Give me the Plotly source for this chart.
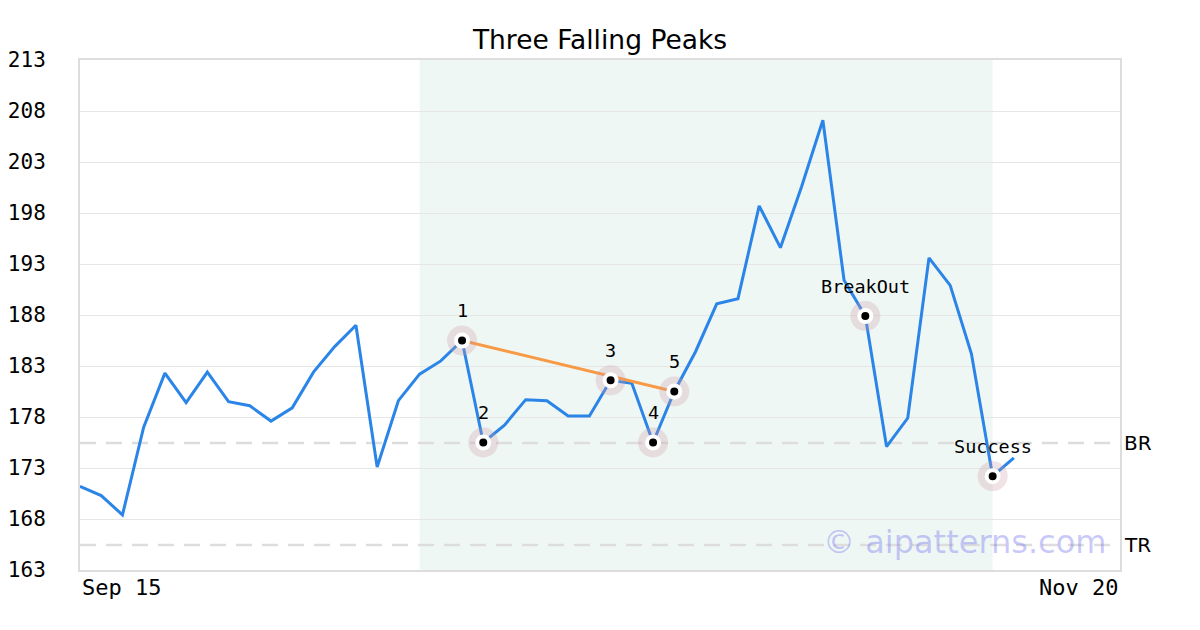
import plotly.graph_objects as go

# ---- data ----
x_index = list(range(45))
prices = [171.2, 170.3, 168.4, 177.0, 182.3, 179.4, 182.4, 179.5, 179.1, 177.6,
          178.9, 182.4, 184.9, 187.0, 173.1, 179.6, 182.2, 183.5, 185.5, 175.5,
          177.2, 179.7, 179.6, 178.1, 178.1, 181.6, 181.3, 175.5, 180.5, 184.4,
          189.1, 189.6, 198.7, 194.6, 200.6, 207.1, 191.4, 187.9, 175.1, 177.9,
          193.6, 190.9, 184.2, 172.2, 174.0]
point_idx = [18, 19, 25, 27, 28, 37, 43]
point_labels = ["1", "2", "3", "4", "5", "BreakOut", "Success"]
trend_idx = [18, 28]
pattern_span = [16, 43]
br_level = 175.45
tr_level = 165.45
y_ticks = [163, 168, 173, 178, 183, 188, 193, 198, 203, 208, 213]
x_tick_labels = ["Sep 15", "Nov 20"]
x_range = [0, 49]

mono = "DejaVu Sans Mono"
sans = "DejaVu Sans"

fig = go.Figure()

# price line
fig.add_trace(go.Scatter(x=x_index, y=prices, mode="lines",
                         line=dict(color="#2b85e8", width=3), hoverinfo="skip"))
# trend line
fig.add_trace(go.Scatter(x=trend_idx, y=[prices[i] for i in trend_idx], mode="lines",
                         line=dict(color="#f89a45", width=3), hoverinfo="skip"))

px = [x_index[i] for i in point_idx]
py = [prices[i] for i in point_idx]
fig.add_trace(go.Scatter(x=px, y=py, mode="markers",
                         marker=dict(size=30, color="rgba(205,150,165,0.28)", line=dict(width=0)),
                         hoverinfo="skip"))
fig.add_trace(go.Scatter(x=px, y=py, mode="markers",
                         marker=dict(size=12, color="black", opacity=1,
                                     line=dict(color="white", width=4)),
                         hoverinfo="skip"))

# pattern shading
fig.add_shape(type="rect", xref="x", yref="paper", x0=pattern_span[0], x1=pattern_span[1],
              y0=0, y1=1, fillcolor="#eff7f4", line=dict(width=0), layer="below")

# BR/TR dashed lines
for lvl, name in [(br_level, "BR"), (tr_level, "TR")]:
    fig.add_shape(type="line", xref="paper", yref="y", x0=0, x1=1, y0=lvl, y1=lvl,
                  line=dict(color="#dddddd", width=2.5, dash="16px,10px"), layer="below")
    fig.add_annotation(xref="paper", yref="y", x=1, y=lvl, text=name, showarrow=False,
                       xanchor="left", xshift=2, font=dict(family=sans, size=20, color="black"))

# point labels
for xi, yi, t in zip(px, py, point_labels):
    fig.add_annotation(x=xi, y=yi, text=t, showarrow=False, yshift=30,
                       font=dict(family=mono, size=18.5, color="black"))

# x labels
fig.add_annotation(xref="paper", yref="paper", x=0, y=0, text=x_tick_labels[0], showarrow=False,
                   xanchor="left", yanchor="top", yshift=-3, font=dict(family=mono, size=22, color="black"))
fig.add_annotation(xref="paper", yref="paper", x=1, y=0, text=x_tick_labels[1], showarrow=False,
                   xanchor="right", yanchor="top", yshift=-3, font=dict(family=mono, size=22, color="black"))

# watermark
fig.add_annotation(xref="paper", yref="paper", x=0.9885, y=0.055, text="© aipatterns.com",
                   showarrow=False, xanchor="right", yanchor="middle",
                   font=dict(family=sans, size=32, color="rgba(100,100,240,0.35)"))

fig.update_layout(
    width=1200, height=630,
    margin=dict(l=72, r=88, t=52, b=68, autoexpand=False),
    paper_bgcolor="white", plot_bgcolor="white",
    showlegend=False,
    title=dict(text="Three Falling Peaks", x=0.5, xanchor="center", xref="paper",
               y=1 - 32 / 630, yanchor="middle", yref="container",
               font=dict(family=sans, size=26.5, color="black")),
)
fig.update_xaxes(range=x_range, showgrid=False, showticklabels=False, zeroline=False,
                 showline=True, mirror=True, linecolor="#dddddd", linewidth=2, ticks="",
                 automargin=False)
fig.update_yaxes(range=[y_ticks[0], y_ticks[-1]], tickvals=y_ticks, showgrid=True,
                 gridcolor="#e6e6e6", gridwidth=1, zeroline=False,
                 showline=True, mirror=True, linecolor="#dddddd", linewidth=2, ticks="",
                 ticklabelstandoff=28, tickfont=dict(family=mono, size=21, color="black"),
                 automargin=False)

fig.write_html("out.html")
